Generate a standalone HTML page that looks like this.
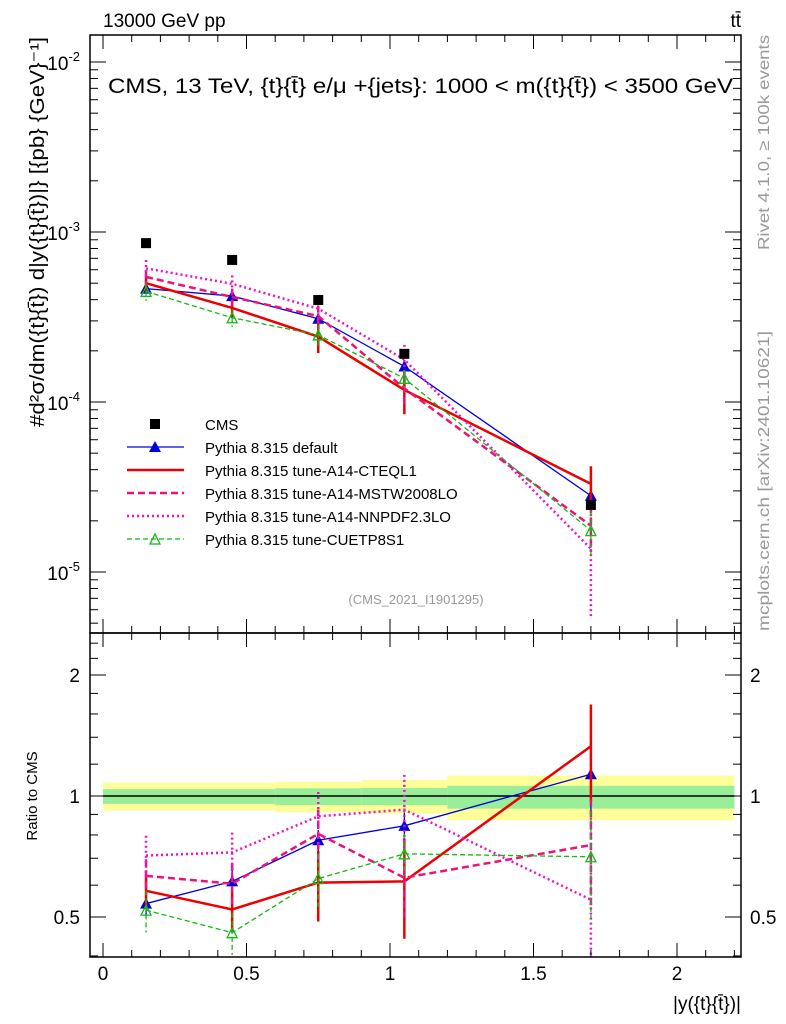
<!DOCTYPE html>
<html><head><meta charset="utf-8"><style>
body{margin:0;background:#fff;}
svg{display:block;font-family:"Liberation Sans",sans-serif;}
</style></head><body>
<svg id="c" width="786" height="1024" viewBox="0 0 786 1024"></svg>
<script>
const bins=[0.15,0.45,0.75,1.05,1.7];
const cms=[8.6e-4,6.85e-4,3.98e-4,1.92e-4,2.48e-5];
const rDefault=[0.54,0.613,0.776,0.843,1.133];
const rA14CTEQ=[0.581,0.522,0.609,0.613,1.33];
const rMSTW=[0.633,0.605,0.805,0.626,0.755];
const rNNPDF=[0.711,0.724,0.89,0.925,0.552];
const rCUETP=[0.52,0.457,0.623,0.718,0.706];
const eDefault=[0.07,0.07,0.06,0.08,0.2];
const eA14CTEQ=[0.1,0.12,0.2,0.28,0.27];
const eMSTW=[0.1,0.12,0.15,0.2,0.3];
const eNNPDF=[0.12,0.12,0.15,0.22,0.6];
const eCUETP=[0.12,0.12,0.15,0.12,0.3];
const bandEdges=[0,0.6,0.9,1.2,2.2];
const bandYellowUp=[1.08,1.085,1.096,1.124];
const bandYellowDn=[0.92,0.911,0.904,0.87];
const bandGreenUp=[1.04,1.045,1.047,1.06];
const bandGreenDn=[0.956,0.949,0.949,0.93];
const xTicks=[0,0.5,1,1.5,2];
const xTickLabels=["0","0.5","1","1.5","2"];

const S=document.getElementById('c');
const NS='http://www.w3.org/2000/svg';
const L=90,R=741,T1=35,B1=633,T2=633,B2=957;
const X=v=>103+287*v;
const Y=v=>232-170*Math.log10(v/1e-3);
const YR=r=>796-121*Math.log2(r);
function el(t,a,name,p){const e=document.createElementNS(NS,t);for(const k in a)e.setAttribute(k,a[k]);


(p||S).appendChild(e);return e;}
function txt(x,y,s,name,extra){const e=el('text',Object.assign({x:x,y:y},extra||{}),name);e.textContent=s;return e;}

bandEdges.slice(0,-1).forEach((b,i)=>{
 el('rect',{x:X(b),y:YR(bandYellowUp[i]),width:X(bandEdges[i+1])-X(b),height:YR(bandYellowDn[i])-YR(bandYellowUp[i]),fill:'#ffff99'},'band-yellow');
 el('rect',{x:X(b),y:YR(bandGreenUp[i]),width:X(bandEdges[i+1])-X(b),height:YR(bandGreenDn[i])-YR(bandGreenUp[i]),fill:'#99ee99'},'band-green');
});
el('line',{x1:X(0),x2:X(2.2),y1:YR(1),y2:YR(1),stroke:'#000','stroke-width':1.5},'ratio-reference-line');

const series=[
 {n:'default',r:rDefault,e:eDefault,c:'#0000dd',w:1.3,d:'',m:'tri'},
 {n:'a14-cteql1',r:rA14CTEQ,e:eA14CTEQ,c:'#ee0000',w:2.5,d:'',m:'none'},
 {n:'a14-mstw2008lo',r:rMSTW,e:eMSTW,c:'#ee1177',w:2.5,d:'7,4',m:'none'},
 {n:'a14-nnpdf23lo',r:rNNPDF,e:eNNPDF,c:'#ee11cc',w:2.5,d:'2,3',m:'none'},
 {n:'cuetp8s1',r:rCUETP,e:eCUETP,c:'#11bb11',w:1.3,d:'5,3',m:'otri'}
];
function marker(x,y,s,name){
 if(s.m==='tri')el('polygon',{points:`${x-6},${y+5} ${x+6},${y+5} ${x},${y-6}`,fill:s.c},name);
 if(s.m==='otri')el('polygon',{points:`${x-5},${y+5} ${x+5},${y+5} ${x},${y-5}`,fill:'none',stroke:s.c,'stroke-width':1.3},name);
}
series.forEach(s=>{
 const pm=bins.map((b,i)=>[X(b),Y(s.r[i]*cms[i])]);
 el('polyline',{points:pm.map(p=>p.join(',')).join(' '),fill:'none',stroke:s.c,'stroke-width':s.w,'stroke-dasharray':s.d},'series-'+s.n+'-main');
 bins.forEach((b,i)=>{const v=s.r[i]*cms[i];
  el('line',{x1:X(b),x2:X(b),y1:Y(v*(1+s.e[i])),y2:Y(v*(1-s.e[i])),stroke:s.c,'stroke-width':s.w>2?2.5:1.3,'stroke-dasharray':s.d},'errbar-'+s.n);
  marker(X(b),Y(v),s,'marker-'+s.n);});
 const pr=bins.map((b,i)=>[X(b),YR(s.r[i])]);
 el('polyline',{points:pr.map(p=>p.join(',')).join(' '),fill:'none',stroke:s.c,'stroke-width':s.w,'stroke-dasharray':s.d},'series-'+s.n+'-ratio');
 bins.forEach((b,i)=>{
  el('line',{x1:X(b),x2:X(b),y1:Math.max(T2,YR(s.r[i]*(1+s.e[i]))),y2:Math.min(B2,YR(s.r[i]*(1-s.e[i]))),stroke:s.c,'stroke-width':s.w>2?2.5:1.3,'stroke-dasharray':s.d},'ratio-errbar-'+s.n);
  marker(X(b),YR(s.r[i]),s,'ratio-marker-'+s.n);});
});
bins.forEach((b,i)=>{el('rect',{x:X(b)-5,y:Y(cms[i])-5,width:10,height:10,fill:'#000'},'cms-point');});

el('rect',{x:L,y:T1,width:R-L,height:B1-T1,fill:'none',stroke:'#000','stroke-width':1.5},'main-frame');
el('rect',{x:L,y:T2,width:R-L,height:B2-T2,fill:'none',stroke:'#000','stroke-width':1.5},'ratio-frame');
for(let k=0;k<=22;k++){const v=k/10;const x=X(v);const maj=k%5===0;const len=maj?14:7;
 [[B1,-1],[T1,1],[B2,-1],[T2,1]].forEach(([y,dir])=>el('line',{x1:x,x2:x,y1:y,y2:y+dir*len,stroke:'#000'},'x-tick'));}
xTicks.forEach((v,i)=>txt(X(v),980,xTickLabels[i],'x-tick-label',{'text-anchor':'middle','font-size':19}));
for(let d=-6;d<=-2;d++)for(let m=1;m<=9;m++){const v=m*Math.pow(10,d);const y=Y(v);if(y<T1||y>B1)continue;
 const len=m===1?16:8;el('line',{x1:L,x2:L+len,y1:y,y2:y,stroke:'#000'},'y-tick');el('line',{x1:R,x2:R-len,y1:y,y2:y,stroke:'#000'},'y-tick');}
[-2,-3,-4,-5].forEach(d=>{const t=txt(80,Y(Math.pow(10,d))+8,'10','y-tick-label',{'text-anchor':'end','font-size':19});
 const s=document.createElementNS(NS,'tspan');s.setAttribute('dy','-9');s.setAttribute('font-size','13');s.textContent=String(d);t.appendChild(s);});
[0.4,0.5,0.6,0.7,0.8,0.9,1,1.2,1.4,1.6,1.8,2,2.2,2.4].forEach(v=>{const y=YR(v);if(y<T2||y>B2)return;const maj=[0.5,1,2].includes(v);const len=maj?16:8;
 el('line',{x1:L,x2:L+len,y1:y,y2:y,stroke:'#000'},'ratio-y-tick');el('line',{x1:R,x2:R-len,y1:y,y2:y,stroke:'#000'},'ratio-y-tick');});
[[2,'2'],[1,'1'],[0.5,'0.5']].forEach(([v,s])=>{txt(80,YR(v)+7,s,'ratio-y-label',{'text-anchor':'end','font-size':19});txt(750,YR(v)+7,s,'ratio-y-label-right',{'font-size':19});});

txt(103,27,'13000 GeV pp','energy-label',{'font-size':19});
txt(741,27,'tt̄','process-label',{'text-anchor':'end','font-size':19});
txt(108,93,'CMS, 13 TeV, {t}{t̄} e/μ +{jets}: 1000 < m({t}{t̄}) < 3500 GeV','plot-title',{'font-size':21,textLength:625,lengthAdjust:'spacingAndGlyphs'});
txt(416,604,'(CMS_2021_I1901295)','analysis-id',{'text-anchor':'middle','font-size':13,fill:'#999'});
txt(0,0,'#d²σ/dm({t}{t̄}) d|y({t}{t̄})|} [{pb} {GeV}⁻¹]','y-axis-title',{'font-size':20,textLength:390,lengthAdjust:'spacingAndGlyphs',transform:'translate(44,427) rotate(-90)'});
txt(0,0,'Ratio to CMS','ratio-y-axis-title',{'font-size':15,'text-anchor':'middle',transform:'translate(37,796) rotate(-90)'});
txt(741,1010,'|y({t}{t̄})|','x-axis-title',{'text-anchor':'end','font-size':19});
txt(0,0,'Rivet 4.1.0, ≥ 100k events','rivet-label',{'font-size':16,fill:'#999',textLength:215,lengthAdjust:'spacingAndGlyphs',transform:'translate(769,250) rotate(-90)'});
txt(0,0,'mcplots.cern.ch [arXiv:2401.10621]','mcplots-label',{'font-size':16,fill:'#999',textLength:300,lengthAdjust:'spacingAndGlyphs',transform:'translate(769,631) rotate(-90)'});

const leg=[['CMS',null],['Pythia 8.315 default',series[0]],['Pythia 8.315 tune-A14-CTEQL1',series[1]],['Pythia 8.315 tune-A14-MSTW2008LO',series[2]],['Pythia 8.315 tune-A14-NNPDF2.3LO',series[3]],['Pythia 8.315 tune-CUETP8S1',series[4]]];
leg.forEach(([lab,s],i)=>{const y=424+23*i;
 if(!s)el('rect',{x:150,y:y-5,width:10,height:10,fill:'#000'},'legend-cms-marker');
 else{el('line',{x1:127,x2:184,y1:y,y2:y,stroke:s.c,'stroke-width':s.w,'stroke-dasharray':s.d},'legend-line');marker(155,y,s,'legend-marker');}
 txt(205,y+6,lab,'legend-entry',{'font-size':15});});
</script>
</body></html>
